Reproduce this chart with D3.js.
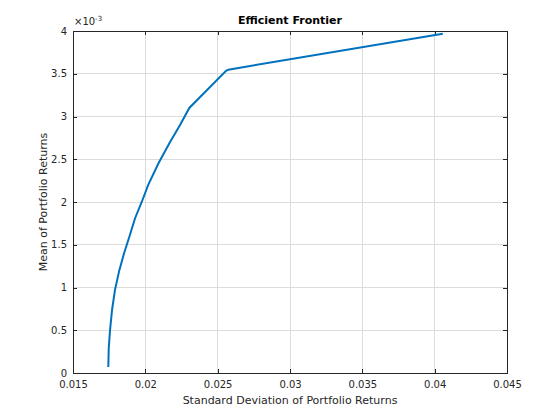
<!DOCTYPE html>
<html>
<head>
<meta charset="utf-8">
<script src="https://cdn.jsdelivr.net/npm/d3@7"></script>
<style>
  body { margin: 0; background: #fff; }
  svg { font-family: "DejaVu Sans", sans-serif; }
  .tick text { font-size: 10px; fill: #262626; }
</style>
</head>
<body>
<svg class="chart"></svg>
<script>
const WIDTH = 560;
const HEIGHT = 420;
const MARGIN = {top: 31, right: 53, bottom: 47, left: 73};

// frontier points
const riskValues = [0.01744, 0.01747, 0.01756, 0.01770, 0.01790, 0.01820, 0.01853, 0.01889,
                    0.01929, 0.01975, 0.02020, 0.02090, 0.02170, 0.02240, 0.02304,
                    0.02558, 0.02574, 0.04056];
const returnValues = [0.07e-3, 0.29e-3, 0.50e-3, 0.74e-3, 0.97e-3, 1.20e-3, 1.40e-3, 1.59e-3,
                      1.81e-3, 2.00e-3, 2.20e-3, 2.45e-3, 2.70e-3, 2.90e-3, 3.10e-3,
                      3.535e-3, 3.548e-3, 3.968e-3];
const xTicks = [0.015, 0.02, 0.025, 0.03, 0.035, 0.04, 0.045];
const yTicks = [0, 0.5e-3, 1e-3, 1.5e-3, 2e-3, 2.5e-3, 3e-3, 3.5e-3, 4e-3];

const w = WIDTH - MARGIN.left - MARGIN.right;
const h = HEIGHT - MARGIN.top - MARGIN.bottom;

let svg = d3.select(".chart").attr("width", WIDTH).attr("height", HEIGHT);
let chart = svg.append("g").attr("transform", `translate(${MARGIN.left},${MARGIN.top})`);

let x = d3.scaleLinear().domain([0.015, 0.045]).range([0, w]);
let y = d3.scaleLinear().domain([0, 4e-3]).range([h, 0]);

// grid
chart.append("g").selectAll("line").data(xTicks).join("line")
     .attr("x1", d => x(d)).attr("x2", d => x(d)).attr("y1", 0).attr("y2", h)
     .attr("stroke", "#dcdcdc").attr("stroke-width", 1).attr("shape-rendering", "crispEdges");
chart.append("g").selectAll("line").data(yTicks).join("line")
     .attr("y1", d => y(d)).attr("y2", d => y(d)).attr("x1", 0).attr("x2", w)
     .attr("stroke", "#dcdcdc").attr("stroke-width", 1).attr("shape-rendering", "crispEdges");

const styleAxis = g => {
  g.select(".domain").attr("stroke", "#262626").attr("shape-rendering", "crispEdges");
  g.selectAll(".tick line").attr("stroke", "#262626").attr("shape-rendering", "crispEdges");
  g.attr("font-family", null).attr("font-size", null);
};

// bottom + left axes with inward ticks
chart.append("g").attr("transform", `translate(0,${h})`)
     .call(d3.axisBottom(x).tickValues(xTicks).tickFormat(d3.format("")).tickSize(-4).tickSizeOuter(0).tickPadding(8))
     .call(styleAxis);
chart.append("g")
     .call(d3.axisLeft(y).tickValues(yTicks).tickFormat(d => d3.format("")(+(d * 1000).toFixed(2))).tickSize(-4).tickSizeOuter(0).tickPadding(6))
     .call(styleAxis);
// top + right axes, ticks only
chart.append("g")
     .call(d3.axisTop(x).tickValues(xTicks).tickFormat("").tickSize(-4).tickSizeOuter(0))
     .call(styleAxis);
chart.append("g").attr("transform", `translate(${w},0)`)
     .call(d3.axisRight(y).tickValues(yTicks).tickFormat("").tickSize(-4).tickSizeOuter(0))
     .call(styleAxis);

// frontier line
let points = riskValues.map((r, i) => [r, returnValues[i]]);
chart.append("path")
     .datum(points)
     .attr("fill", "none")
     .attr("stroke", "#0072bd")
     .attr("stroke-width", 2)
     .attr("d", d3.line().x(d => x(d[0])).y(d => y(d[1])));

// exponent label
let expo = chart.append("text")
     .attr("x", 1).attr("y", -6)
     .attr("font-size", "10px").attr("fill", "#262626");
expo.append("tspan").text("\u00d710");
expo.append("tspan").attr("dy", -4).attr("font-size", "7px").text("-3");

// title
svg.append("text")
   .attr("x", MARGIN.left + w / 2).attr("y", 24)
   .attr("text-anchor", "middle")
   .attr("font-size", "11px").attr("font-weight", "bold").attr("fill", "#000")
   .text("Efficient Frontier");

// axis labels
svg.append("text")
   .attr("x", MARGIN.left + w / 2).attr("y", 404)
   .attr("text-anchor", "middle")
   .attr("font-size", "11px").attr("fill", "#262626")
   .text("Standard Deviation of Portfolio Returns");

svg.append("text")
   .attr("transform", `translate(47,${MARGIN.top + h / 2}) rotate(-90)`)
   .attr("text-anchor", "middle")
   .attr("font-size", "11px").attr("fill", "#262626")
   .text("Mean of Portfolio Returns");
</script>
</body>
</html>
